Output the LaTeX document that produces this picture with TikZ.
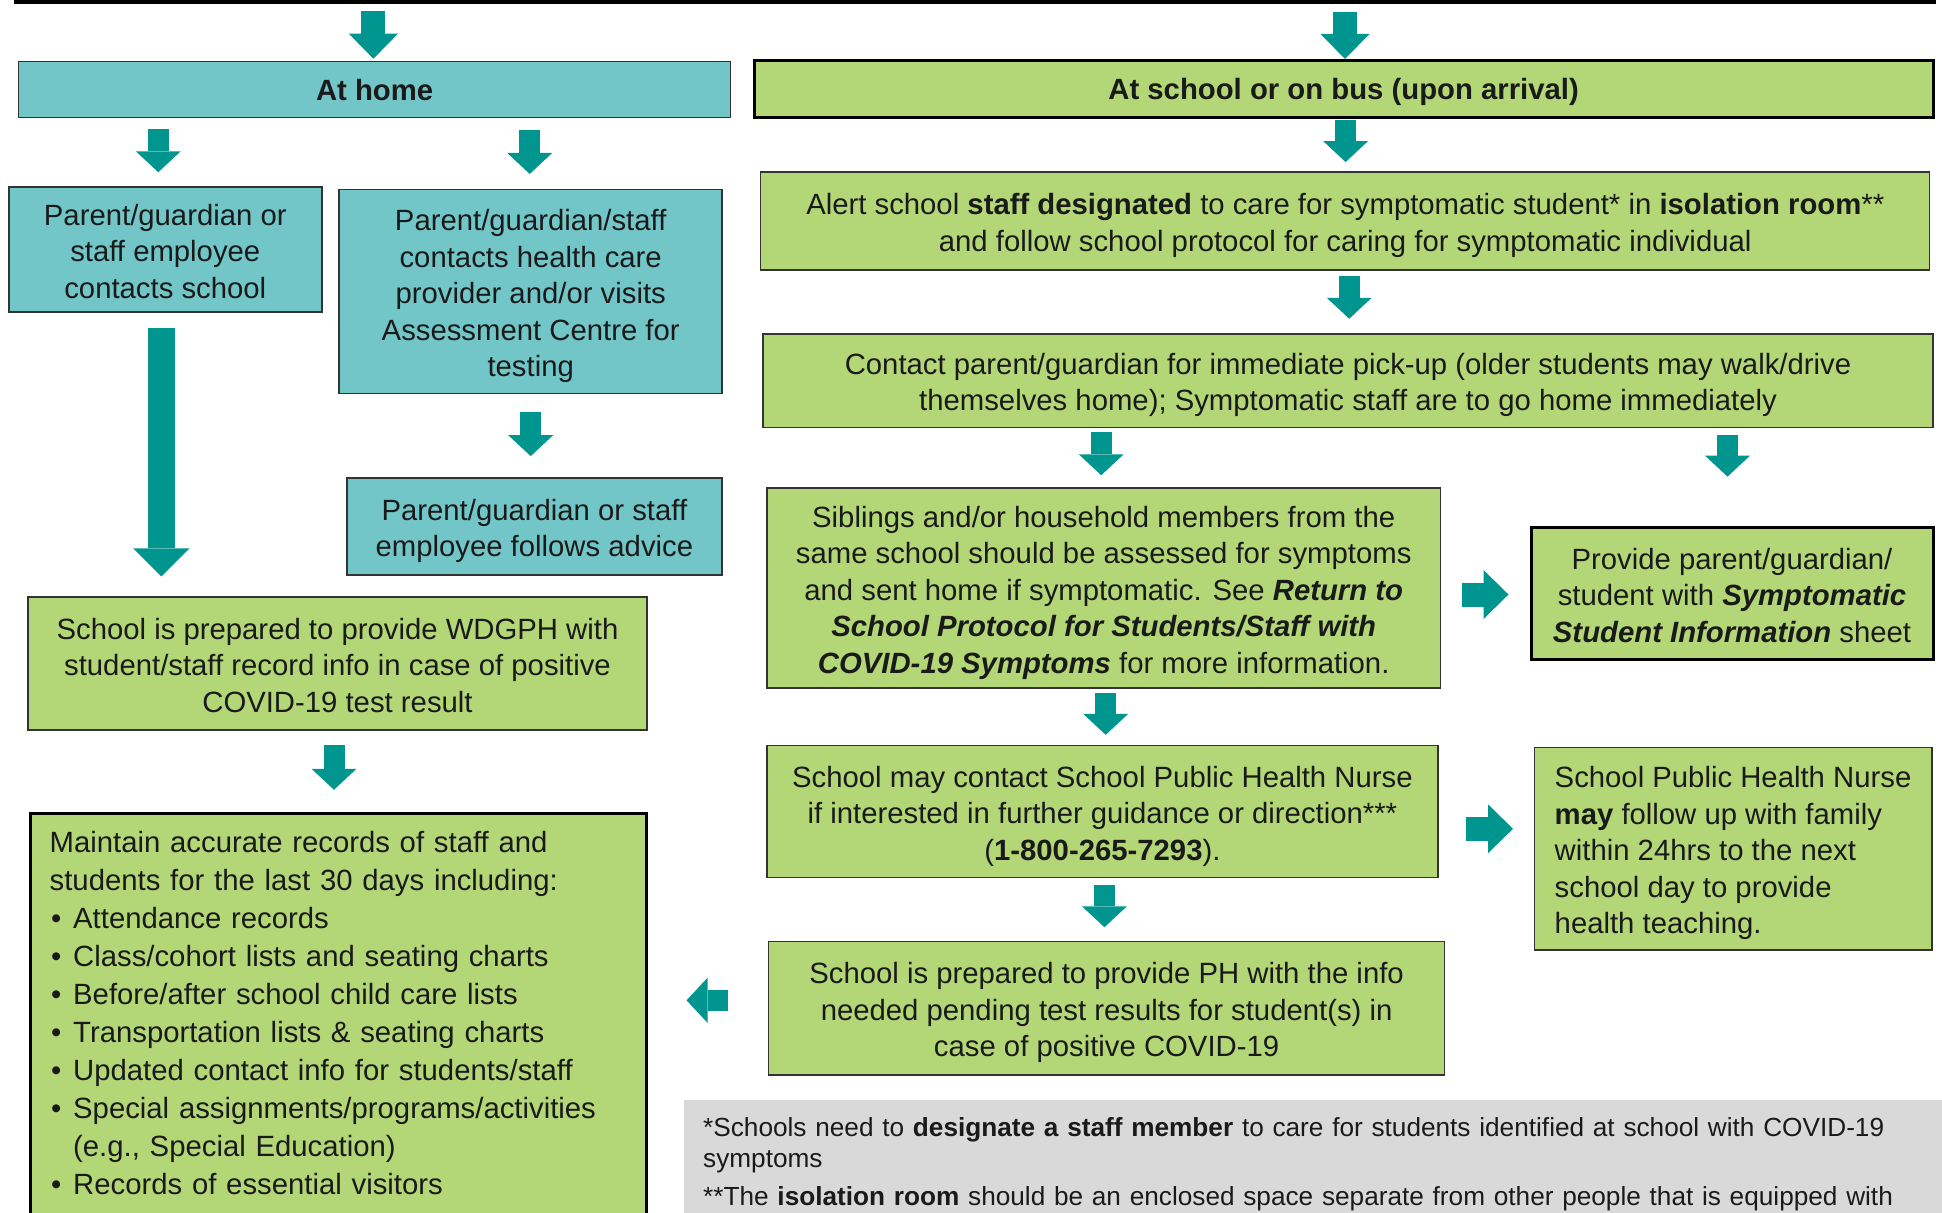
\documentclass[tikz,border=0pt]{standalone}
\usepackage{fontspec}
\setmainfont{Liberation Sans}
\usetikzlibrary{arrows.meta}

\definecolor{hometeal}{HTML}{72C6C7}
\definecolor{schoolgreen}{HTML}{B3D677}
\definecolor{arrowteal}{HTML}{00968F}
\definecolor{notegray}{HTML}{D9D9D9}
\definecolor{edgegray}{HTML}{333333}
\definecolor{inkgray}{HTML}{1A1A1A}

\newcommand\bodysize{\fontsize{29.3pt}{36.5pt}\selectfont}
\newcommand\listsize{\fontsize{29.3pt}{38pt}\selectfont}
\newcommand\notesize{\fontsize{26.2pt}{31pt}\selectfont}
\newcommand\linestrut{\rule[-7.5pt]{0pt}{37pt}}
\newcommand\firstline{\rule{0pt}{31pt}}
\newcommand\lastline{\rule[-7pt]{0pt}{7pt}}
\newcommand\bulletitem{\hspace*{1.5pt}\makebox[22pt][l]{\textbullet}}

\tikzset{
  box/.style={draw=edgegray, line width=1.5pt, inner sep=0pt, align=center,
    font=\bodysize, text=inkgray},
  heading/.style={font=\bodysize\bfseries,
    execute at begin node=\linestrut, execute at end node=\linestrut},
  homebox/.style={box, fill=hometeal},
  schoolbox/.style={box, fill=schoolgreen},
  heavy/.style={draw=black, line width=3pt},
  flow/.style={draw=arrowteal, line width=21pt,
    -{Triangle[length=21pt, width=45pt, line width=0pt]}},
  flowwide/.style={draw=arrowteal, line width=24pt,
    -{Triangle[length=25pt, width=49pt, line width=0pt]}},
  flowlong/.style={draw=arrowteal, line width=27pt,
    -{Triangle[length=28pt, width=56pt, line width=0pt]}},
}

\begin{document}
\begin{tikzpicture}[x=1pt, y=-1pt]

  \useasboundingbox (0,0) rectangle (1942,1212);

  % line at the top of the page
  \coordinate (edgeL) at (14,2);
  \coordinate (edgeR) at (1936,2);
  \draw[line width=4pt, black] (edgeL) -- (edgeR);

  % at home column
  \node[homebox, heading, minimum width=712pt, minimum height=56pt] (home) at (374.6,89.5)
    {At home};
  \node[homebox, minimum width=313pt, minimum height=125pt] (callschool) at (165.3,249.5)
    {\firstline Parent/guardian or\\staff employee\\contacts school\lastline};
  \node[homebox, minimum width=383pt, minimum height=204pt] (provider) at (530.7,291.7)
    {\firstline Parent/guardian/staff\\contacts health care\\provider and/or visits\\Assessment Centre for\\testing\lastline};
  \node[homebox, minimum width=375pt, minimum height=97pt] (advice) at (534.4,526.4)
    {\firstline Parent/guardian or staff\\employee follows advice\lastline};
  \node[schoolbox, minimum width=619pt, minimum height=133pt] (wdgph) at (337.5,663.7)
    {\firstline School is prepared to provide WDGPH with\\student/staff record info in case of positive\\COVID-19 test result\lastline};
  \node[schoolbox, heavy, anchor=north west, minimum width=616pt, minimum height=450pt] (records) at (28.5,811.8) {};
  \node[anchor=north west, inner sep=0pt, text width=590pt, align=left, font=\listsize, text=inkgray]
    (recordlist) at (49.5,831.5)
    {Maintain accurate records of staff and\\
     students for the last 30 days including:\\
     \bulletitem Attendance records\\
     \bulletitem Class/cohort lists and seating charts\\
     \bulletitem Before/after school child care lists\\
     \bulletitem Transportation lists \& seating charts\\
     \bulletitem Updated contact info for students/staff\\
     \bulletitem Special assignments/programs/activities\\
     \hspace*{23.5pt}(e.g., Special Education)\\
     \bulletitem Records of essential visitors};

  % at school column
  \node[schoolbox, heavy, heading, minimum width=1179pt, minimum height=57pt] (school) at (1343.6,89)
    {At school or on bus (upon arrival)};
  \node[schoolbox, minimum width=1169pt, minimum height=98pt] (alert) at (1345.2,220.8)
    {\firstline Alert school \textbf{staff designated} to care for symptomatic student* in \textbf{isolation room}**\\
     and follow school protocol for caring for symptomatic individual\lastline};
  \node[schoolbox, minimum width=1170pt, minimum height=93.4pt] (contact) at (1348,380.6)
    {\firstline Contact parent/guardian for immediate pick-up (older students may walk/drive\\
     themselves home); Symptomatic staff are to go home immediately\lastline};
  \node[schoolbox, minimum width=673.4pt, minimum height=200pt] (siblings) at (1103.7,588)
    {\firstline Siblings and/or household members from the\\
     same school should be assessed for symptoms\\
     and sent home if symptomatic. See \textbf{\textit{Return to}}\\
     \textbf{\textit{School Protocol for Students/Staff with}}\\
     \textbf{\textit{COVID-19 Symptoms}} for more information.\lastline};
  \node[schoolbox, heavy, minimum width=402pt, minimum height=132.7pt] (infosheet) at (1732,593.5)
    {\firstline Provide parent/guardian/\\student with \textbf{\textit{Symptomatic}}\\
     \textbf{\textit{Student Information}} sheet\lastline};
  \node[schoolbox, minimum width=671pt, minimum height=132pt] (maycontact) at (1102.4,811.6)
    {\firstline School may contact School Public Health Nurse\\
     if interested in further guidance or direction***\\
     (\textbf{1-800-265-7293}).\lastline};
  \node[schoolbox, minimum width=397.5pt, minimum height=202.3pt] (nurse) at (1733,848.8) {};
  \node[anchor=west, inner sep=0pt, align=left, font=\bodysize, text=inkgray]
    (nursetext) at ([xshift=21pt]nurse.west)
    {\firstline School Public Health Nurse\\
     \textbf{may} follow up with family\\
     within 24hrs to the next\\
     school day to provide\\
     health teaching.\lastline};
  \node[schoolbox, minimum width=676pt, minimum height=133.4pt] (infoPH) at (1106.6,1008.3)
    {\firstline School is prepared to provide PH with the info\\
     needed pending test results for student(s) in\\
     case of positive COVID-19\lastline};

  % footnotes
  \node[fill=notegray, inner sep=0pt, anchor=north west, minimum width=1300pt, minimum height=160pt] (notes) at (683.6,1099.8) {};
  \node[anchor=north west, inner sep=0pt, text width=1235pt, align=left, font=\notesize, text=inkgray]
    (notetext) at (703,1117)
    {*Schools need to \textbf{designate a staff member} to care for students identified at school with COVID-19\\
     symptoms\\[7pt]
     **The \textbf{isolation room} should be an enclosed space separate from other people that is equipped with};

  % arrows
  \coordinate (feedL) at (373.4,10.8);
  \coordinate (feedR) at (1345,12);
  \draw[flowwide, shorten >=2pt] (feedL) -- (feedL |- home.north);
  \draw[flowwide] (feedR) -- (feedR |- school.north);

  \draw[flow, shorten <=11pt, shorten >=14pt] ([xshift=-7pt]callschool.north |- home.south) -- ([xshift=-7pt]callschool.north);
  \draw[flow, shorten <=12pt, shorten >=15pt] ([xshift=-1pt]provider.north |- home.south) -- ([xshift=-1pt]provider.north);
  \draw[flow, shorten <=18pt, shorten >=21pt] (provider.south) -- (provider.south |- advice.north);
  \draw[flowlong, shorten <=15pt, shorten >=20pt] ([xshift=-4pt]callschool.south) -- ([xshift=-4pt]callschool.south |- wdgph.north);
  \draw[flow, shorten <=14pt, shorten >=22pt] ([xshift=-3.5pt]wdgph.south) -- ([xshift=-3.5pt]wdgph.south |- records.north);

  \draw[flow, shorten <=1.5pt, shorten >=9pt] ([xshift=2pt]school.south) -- ([xshift=2pt]school.south |- alert.north);
  \draw[flow, shorten <=5.4pt, shorten >=14.4pt] ([xshift=4pt]alert.south) -- ([xshift=4pt]alert.south |- contact.north);
  \draw[flow, shorten <=4.4pt, shorten >=12pt] ([xshift=-2.5pt]siblings.north |- contact.south) -- ([xshift=-2.5pt]siblings.north);
  \draw[flow, shorten <=6.7pt, shorten >=49pt] ([xshift=-4.5pt]infosheet.north |- contact.south) -- ([xshift=-4.5pt]infosheet.north);
  \draw[flowwide, shorten <=20.6pt, shorten >=21pt] ([yshift=-1pt]infosheet.west -| siblings.east) -- ([yshift=-1pt]infosheet.west);
  \draw[flow, shorten <=4pt, shorten >=10pt] ([xshift=2pt]siblings.south) -- ([xshift=2pt]siblings.south |- maycontact.north);
  \draw[flowwide, shorten <=27pt, shorten >=20.5pt] ([yshift=20pt]nurse.west -| maycontact.east) -- ([yshift=20pt]nurse.west);
  \draw[flow, shorten <=6.4pt, shorten >=13.6pt] ([xshift=2pt]maycontact.south) -- ([xshift=2pt]maycontact.south |- infoPH.north);
  \draw[flow, shorten <=40pt, shorten >=39pt] ([yshift=8pt]infoPH.west) -- ([yshift=8pt]infoPH.west -| records.east);

\end{tikzpicture}
\end{document}
